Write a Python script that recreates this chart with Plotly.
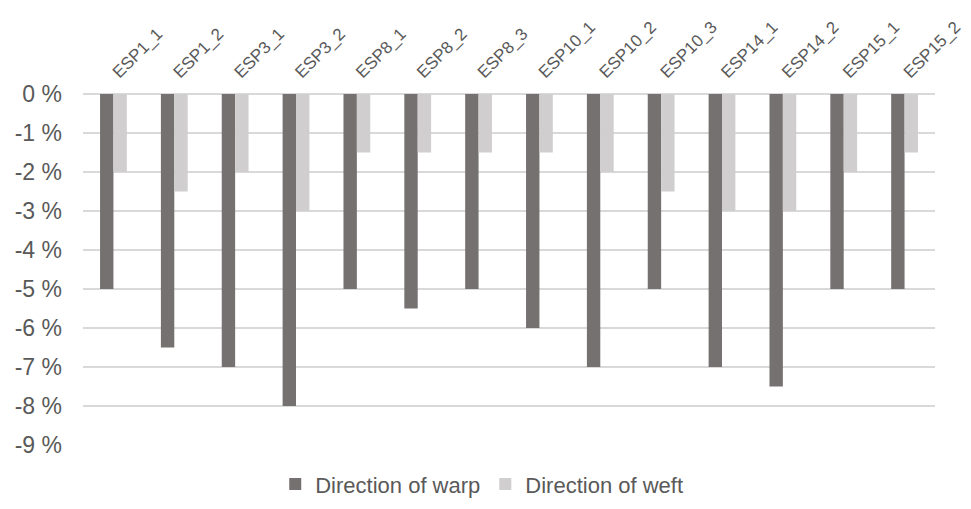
import plotly.graph_objects as go

categories = ["ESP1_1", "ESP1_2", "ESP3_1", "ESP3_2", "ESP8_1", "ESP8_2", "ESP8_3",
              "ESP10_1", "ESP10_2", "ESP10_3", "ESP14_1", "ESP14_2", "ESP15_1", "ESP15_2"]
warp = [-5, -6.5, -7, -8, -5, -5.5, -5, -6, -7, -5, -7, -7.5, -5, -5]
weft = [-2, -2.5, -2, -3, -1.5, -1.5, -1.5, -1.5, -2, -2.5, -3, -3, -2, -1.5]
tick_vals = [0, -1, -2, -3, -4, -5, -6, -7, -8, -9]
tick_text = [f"{v} %" for v in tick_vals]

fig = go.Figure()
fig.add_trace(go.Bar(x=categories, y=warp, name="Direction of warp",
                     marker=dict(color="#767171", line=dict(width=0))))
fig.add_trace(go.Bar(x=categories, y=weft, name="Direction of weft",
                     marker=dict(color="#d0cece", line=dict(width=0))))

font = "Liberation Sans, Arial, sans-serif"
# the page body adds an 8px margin, so the figure is sized to fit inside it
fig.update_layout(
    width=955, height=493,
    margin=dict(l=75, r=28, t=86, b=56, autoexpand=False),
    plot_bgcolor="white", paper_bgcolor="white",
    barmode="group", bargap=0.56, bargroupgap=0,
    font=dict(family=font, color="#595959"),
    showlegend=True,
    legend=dict(orientation="h", x=0.468, xanchor="center", y=-0.112, yanchor="middle",
                font=dict(size=22, color="#595959"), traceorder="normal",
                itemwidth=30, tracegroupgap=0),
    xaxis=dict(side="top", tickangle=-45, tickfont=dict(size=17, color="#595959"),
               showgrid=False, showline=False, ticks="", automargin=False,
               ticklabelstandoff=8),
    yaxis=dict(range=[-9, 0], tickvals=tick_vals, ticktext=tick_text,
               tickfont=dict(size=23, color="#595959"), showgrid=True,
               gridcolor="#d9d9d9", gridwidth=2, zeroline=True, zerolinecolor="#d9d9d9",
               zerolinewidth=2, showline=False, ticks="", automargin=False,
               ticklabelstandoff=20),
)
fig.write_html("out.html")
